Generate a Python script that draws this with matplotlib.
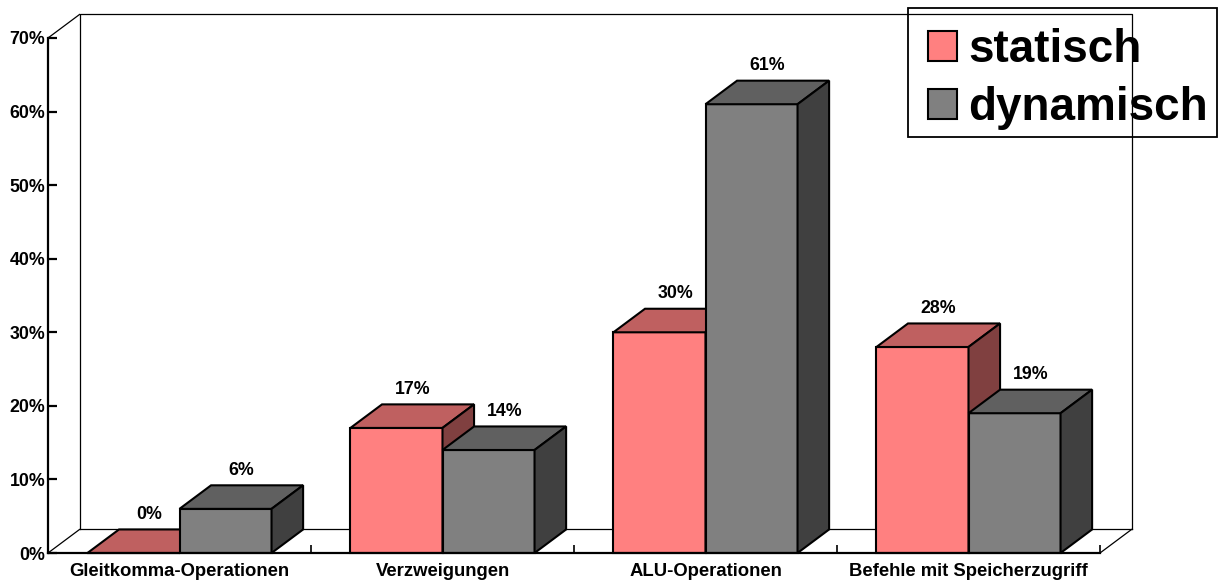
import matplotlib.pyplot as plt
from matplotlib.patches import Polygon, Patch, Rectangle

plt.rcParams['font.family'] = ['Liberation Sans', 'DejaVu Sans']
plt.rcParams['font.weight'] = 'bold'

kategorien = ['Gleitkomma-Operationen', 'Verzweigungen', 'ALU-Operationen',
              'Befehle mit Speicherzugriff']
statisch = [0, 17, 30, 28]
dynamisch = [6, 14, 61, 19]
serien = ['statisch', 'dynamisch']

# front, top, side colours of each series
farben = {
    'statisch': ('#FF8080', '#BF6060', '#804040'),
    'dynamisch': ('#808080', '#606060', '#404040'),
}

# depth of the pseudo-3D look in data units
dx, dy = 0.12, 3.2
breite = 0.35
ymax = 70

W, H = 1220, 581
fig = plt.figure(figsize=(W / 100, H / 100), dpi=100)
ax = fig.add_axes([48 / W, 28 / H, 1052 / W, 515 / H])
ax.set_xlim(0, len(kategorien))
ax.set_ylim(0, ymax)

# back wall and floor outline
wand = dict(color='black', lw=0.9, clip_on=False, zorder=1)
n = len(kategorien)
ax.plot([dx, dx, n + dx, n + dx], [dy, ymax + dy, ymax + dy, dy], **wand)
ax.plot([dx, n + dx], [dy, dy], **wand)
ax.plot([0, dx], [0, dy], **wand)
ax.plot([n, n + dx], [0, dy], **wand)
ax.plot([0, dx], [ymax, ymax + dy], **wand)


def saeule(x0, wert, name):
    front, oben, seite = farben[name]
    x1 = x0 + breite
    ax.bar(x0, wert, width=breite, align='edge', color=front,
           edgecolor='black', lw=1.5, zorder=3, clip_on=False)
    ax.add_patch(Polygon([(x0, wert), (x0 + dx, wert + dy), (x1 + dx, wert + dy),
                          (x1, wert)], closed=True, facecolor=oben,
                         edgecolor='black', lw=1.5, zorder=3, clip_on=False))
    ax.add_patch(Polygon([(x1, 0), (x1 + dx, dy), (x1 + dx, wert + dy),
                          (x1, wert)], closed=True, facecolor=seite,
                         edgecolor='black', lw=1.5, zorder=3, clip_on=False))
    ax.annotate(f'{wert}%', (x0 + breite / 2 + dx / 2, wert + dy),
                xytext=(0, 4.5), textcoords='offset points', ha='center',
                va='bottom', fontsize=12.8, fontweight='bold', zorder=5)


for i in range(n):
    start = i + (1 - 2 * breite) / 2
    saeule(start, statisch[i], 'statisch')
    saeule(start + breite, dynamisch[i], 'dynamisch')

for s in ['top', 'right']:
    ax.spines[s].set_visible(False)
for s in ['left', 'bottom']:
    ax.spines[s].set_linewidth(1.6)
    ax.spines[s].set_zorder(4)

ax.set_yticks(range(0, ymax + 1, 10))
ax.set_yticklabels([f'{v}%' for v in range(0, ymax + 1, 10)])
ax.tick_params(axis='y', direction='in', length=6.5, width=1.6, pad=2,
               labelsize=12.8)
ax.set_xticks(range(n + 1))
ax.set_xticklabels([])
ax.tick_params(axis='x', direction='in', length=6, width=1.2)
ax.set_xticks([i + 0.5 for i in range(n)], minor=True)
ax.set_xticklabels(kategorien, minor=True, fontsize=13.3, fontweight='bold')
ax.tick_params(axis='x', which='minor', length=0, pad=7)

# legend entries without frame, the transparent box is drawn separately
griffe = [Patch(facecolor=farben[s][0], edgecolor='black', lw=1.5) for s in serien]
leg = ax.legend(griffe, serien, loc='upper left',
                bbox_to_anchor=(928 / W, 1 - 28.5 / H),
                bbox_transform=fig.transFigure, borderaxespad=0,
                prop={'size': 33, 'weight': 'bold'}, handlelength=0.63,
                handleheight=0.63, handletextpad=0.24, labelspacing=0.3,
                borderpad=0, frameon=False)
leg.set_zorder(6)
fig.patches.append(Rectangle((908 / W, 1 - 137 / H), 309 / W, 129 / H,
                             transform=fig.transFigure, fill=False,
                             edgecolor='black', lw=1.3, zorder=6))

fig.savefig('out.png', dpi=100)
